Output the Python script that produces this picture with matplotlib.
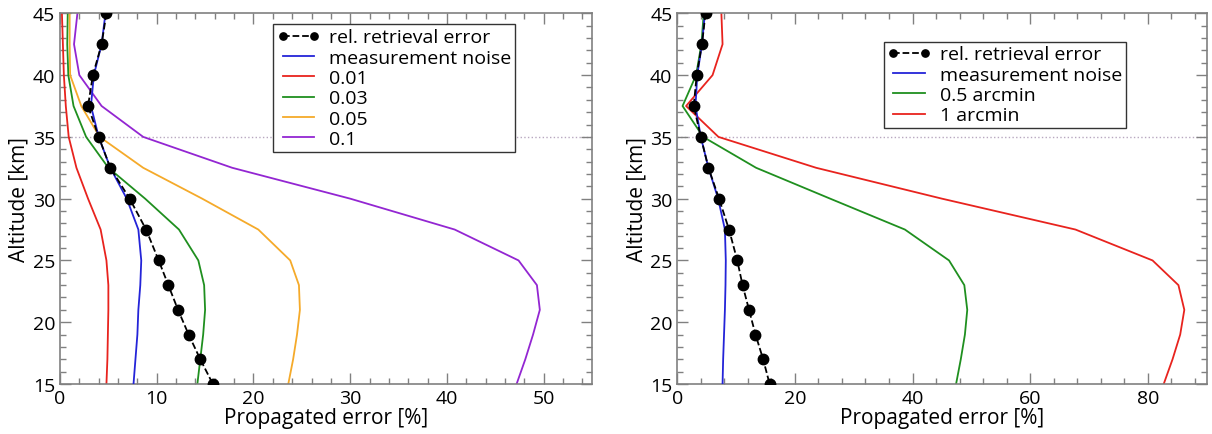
import matplotlib.pyplot as plt
from matplotlib.ticker import MultipleLocator

plt.rcParams['font.family'] = ['Open Sans', 'DejaVu Sans']

# altitudes [km]
alt = [45, 42.5, 40, 37.5, 35, 32.5, 30, 27.5, 25, 23, 21, 19, 17, 15]

# left panel
left_retrieval = [4.8, 4.3, 3.4, 2.9, 4.0, 5.2, 7.2, 8.9, 10.2, 11.2, 12.2, 13.3, 14.5, 15.8]
left_noise = [4.7, 4.3, 3.5, 3.2, 4.0, 5.2, 6.9, 8.1, 8.4, 8.3, 8.1, 8.0, 7.8, 7.6]
left_001 = [0.2, 0.3, 0.4, 0.6, 0.9, 1.7, 2.9, 4.2, 4.8, 5.0, 5.0, 4.95, 4.9, 4.8]
left_003 = [0.8, 0.75, 0.86, 1.4, 2.7, 5.0, 8.8, 12.3, 14.3, 14.9, 15.0, 14.8, 14.5, 14.2]
left_005 = [1.0, 1.0, 1.05, 2.2, 4.1, 8.6, 14.7, 20.5, 23.8, 24.7, 24.8, 24.5, 24.1, 23.6]
left_01 = [1.8, 1.45, 2.0, 4.3, 8.6, 17.8, 30.0, 40.8, 47.4, 49.3, 49.6, 48.9, 48.1, 47.2]
left_labels = ["0.01", "0.03", "0.05", "0.1"]

# right panel
right_retrieval = [4.8, 4.2, 3.3, 2.8, 4.0, 5.3, 7.1, 8.8, 10.2, 11.1, 12.2, 13.3, 14.6, 15.7]
right_noise = [4.7, 4.2, 3.4, 3.1, 4.0, 5.3, 6.95, 8.1, 8.25, 8.2, 8.1, 7.95, 7.8, 7.7]
right_05 = [4.5, 4.1, 3.2, 0.9, 4.4, 13.4, 26.0, 38.7, 46.2, 48.8, 49.3, 48.9, 48.2, 47.4]
right_1 = [7.5, 7.7, 6.0, 1.5, 7.0, 23.6, 45.0, 67.7, 80.8, 85.2, 86.2, 85.5, 84.2, 82.7]
right_labels = ["0.5 arcmin", "1 arcmin"]

blue = '#2424d8'
red = '#e8231e'
green = '#1f8f1f'
orange = '#f5aa2a'
purple = '#9326d2'
spine = '#808080'


def style_axes(ax, xmax, xmajor, xminor):
    ax.set_xlim(0, xmax)
    ax.set_ylim(15, 45)
    ax.xaxis.set_major_locator(MultipleLocator(xmajor))
    ax.xaxis.set_minor_locator(MultipleLocator(xminor))
    ax.yaxis.set_major_locator(MultipleLocator(5))
    ax.yaxis.set_minor_locator(MultipleLocator(1))
    ax.tick_params(which='both', direction='in', top=True, right=True,
                   color=spine, labelsize=14)
    ax.tick_params(which='major', length=8, width=1)
    ax.tick_params(which='minor', length=4, width=1)
    for s in ax.spines.values():
        s.set_color(spine)
        s.set_linewidth(1.2)
    ax.axhline(35, color='#b8a8c0', ls=':', lw=1, zorder=0)
    ax.set_xlabel("Propagated error [%]", fontsize=15, labelpad=0)
    ax.set_ylabel("Altitude [km]", fontsize=15, labelpad=2)


def add_legend(ax, order, anchor):
    h, l = ax.get_legend_handles_labels()
    leg = ax.legend([h[i] for i in order], [l[i] for i in order],
                    loc='upper left', bbox_to_anchor=anchor, fontsize=14,
                    numpoints=2, markerscale=0.7, handlelength=2.2,
                    borderaxespad=0, labelspacing=0.12, borderpad=0.2,
                    handletextpad=0.5, fancybox=False, framealpha=1,
                    edgecolor='#333333')
    leg.get_frame().set_linewidth(1)


fig = plt.figure(figsize=(12.12, 4.35), dpi=100)
ax1 = fig.add_axes([0.0495, 0.115, 0.439, 0.852])
ax2 = fig.add_axes([0.5588, 0.115, 0.4368, 0.852])

lw = 1.3
# left
ax1.plot(left_noise, alt, color=blue, lw=lw, label="measurement noise", zorder=3)
for vals, c, lab in zip([left_001, left_003, left_005, left_01],
                        [red, green, orange, purple], left_labels):
    ax1.plot(vals, alt, color=c, lw=lw, label=lab, zorder=2)
ax1.plot(left_retrieval, alt, color='black', ls='--', lw=1.3, marker='o',
         ms=7.5, label="rel. retrieval error", zorder=4)
style_axes(ax1, 55, 10, 2)
add_legend(ax1, [5, 0, 1, 2, 3, 4], (0.40, 0.97))

# right
ax2.plot(right_noise, alt, color=blue, lw=lw, label="measurement noise", zorder=3)
for vals, c, lab in zip([right_05, right_1], [green, red], right_labels):
    ax2.plot(vals, alt, color=c, lw=lw, label=lab, zorder=2)
ax2.plot(right_retrieval, alt, color='black', ls='--', lw=1.3, marker='o',
         ms=7.5, label="rel. retrieval error", zorder=4)
style_axes(ax2, 90, 20, 4)
add_legend(ax2, [3, 0, 1, 2], (0.39, 0.924))

fig.savefig("out.png", dpi=100)
